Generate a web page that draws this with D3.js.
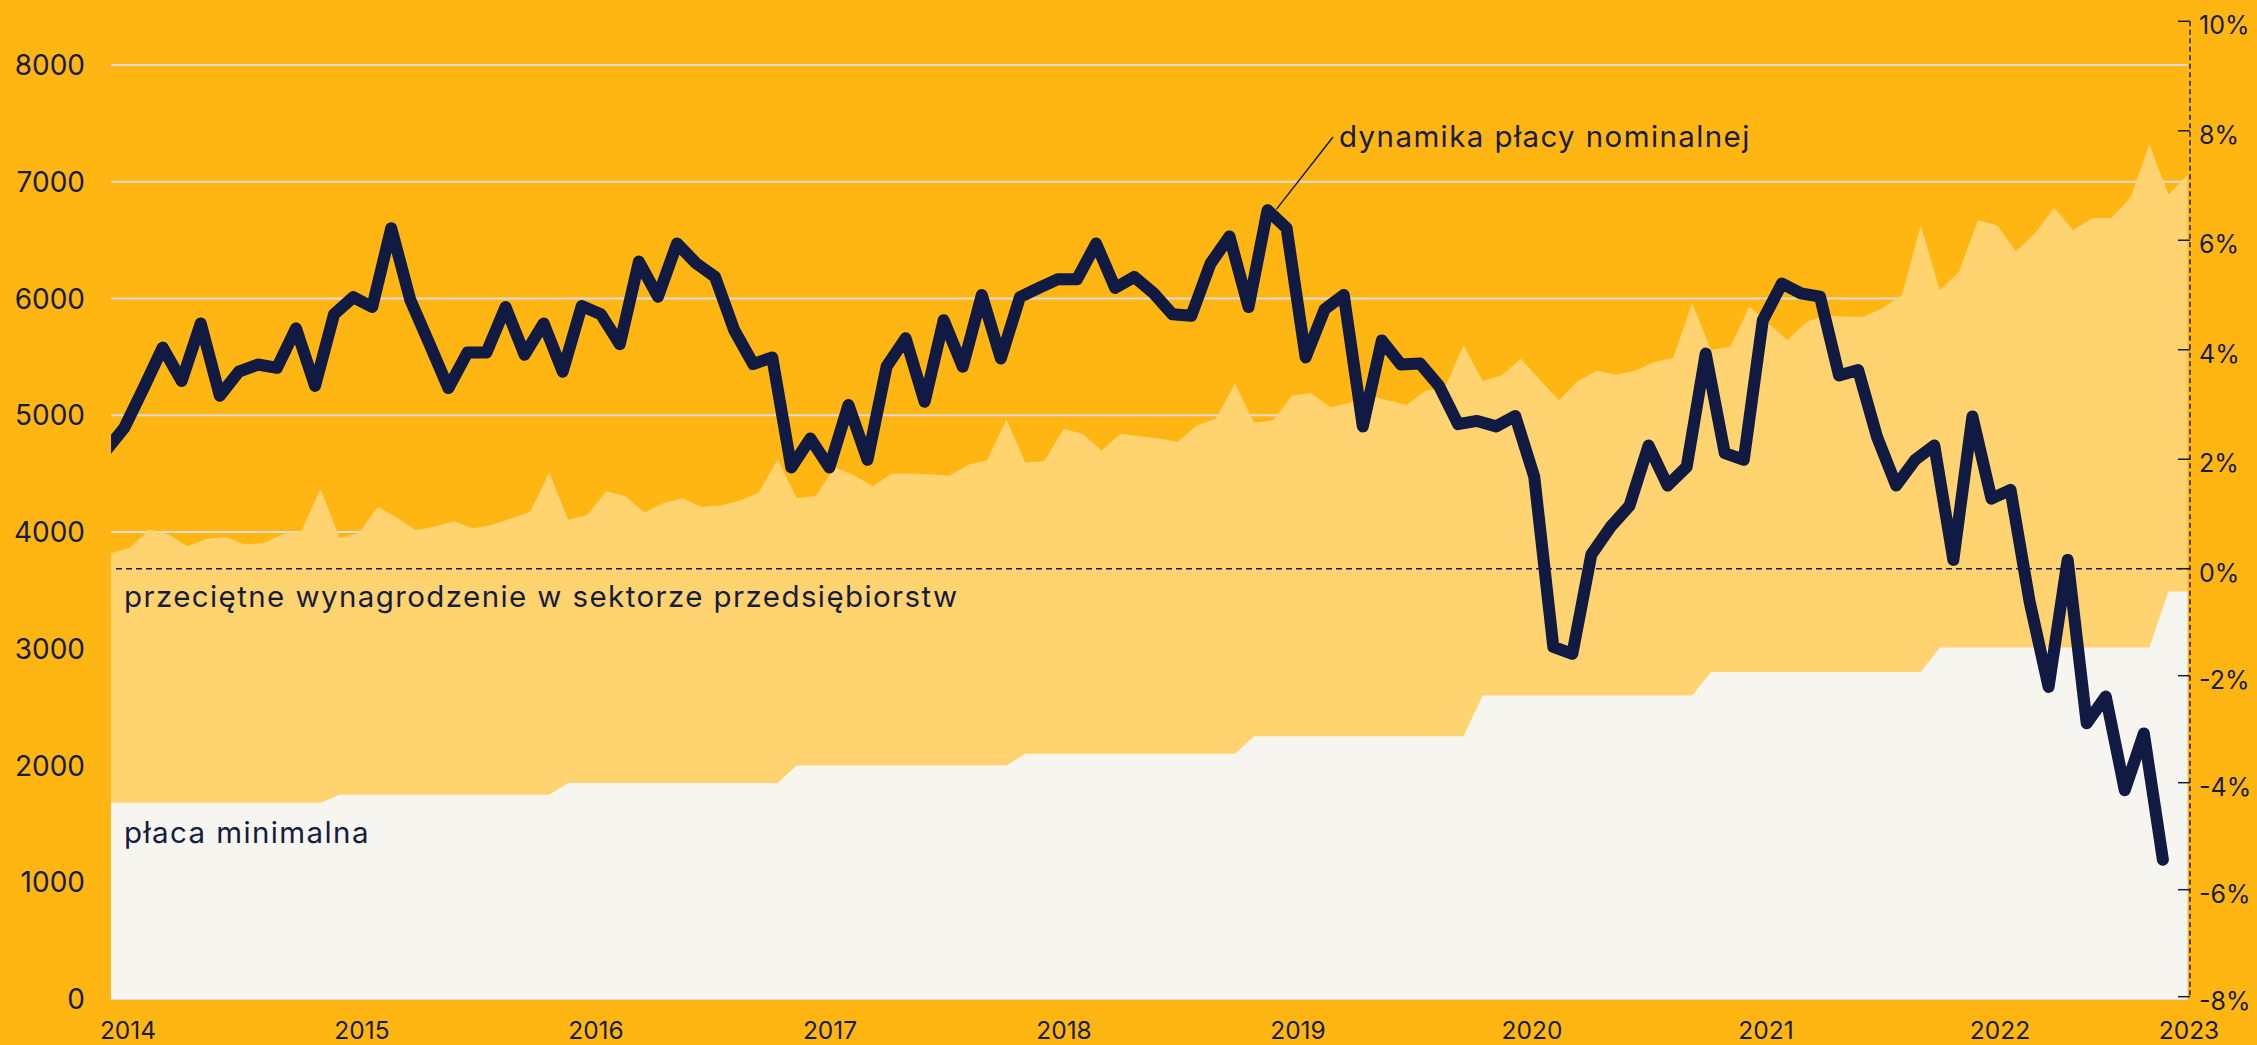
<!DOCTYPE html>
<html>
<head>
<meta charset="utf-8">
<script src="https://cdn.jsdelivr.net/npm/d3@7"></script>
<style>
  html, body { margin: 0; padding: 0; background: #FFB512; }
  svg { display: block; }
  text { font-family: Inter, "Noto Sans", sans-serif; fill: #161c3f; }
</style>
</head>
<body>
<svg id="chart" width="2257" height="1045"></svg>
<script>
// przeciętne wynagrodzenie w sektorze przedsiębiorstw, PLN, I 2014 - II 2023
var avgWage = [
  3817, 3866, 4022, 3981, 3879, 3940, 3957, 3895, 3903, 3981, 4010, 4371,
  3949, 3990, 4215, 4125, 4015, 4047, 4092, 4031, 4063, 4116, 4174, 4510,
  4104, 4146, 4350, 4309, 4166, 4248, 4289, 4215, 4227, 4268, 4338, 4624,
  4289, 4309, 4555, 4486, 4391, 4502, 4502, 4494, 4481, 4576, 4617, 4964,
  4596, 4608, 4883, 4842, 4698, 4842, 4821, 4801, 4772, 4915, 4973, 5272,
  4936, 4957, 5169, 5190, 5067, 5108, 5169, 5129, 5088, 5210, 5231, 5600,
  5293, 5341, 5485, 5305, 5129, 5293, 5382, 5346, 5382, 5456, 5490, 5959,
  5559, 5587, 5930, 5787, 5645, 5799, 5856, 5844, 5844, 5919, 6027, 6627,
  6073, 6227, 6670, 6627, 6404, 6558, 6775, 6587, 6690, 6690, 6862, 7318,
  6890, 7061
];

// płaca minimalna, PLN, I 2014 - II 2023
var minWage = [
  1680, 1680, 1680, 1680, 1680, 1680, 1680, 1680, 1680, 1680, 1680, 1680,
  1750, 1750, 1750, 1750, 1750, 1750, 1750, 1750, 1750, 1750, 1750, 1750,
  1850, 1850, 1850, 1850, 1850, 1850, 1850, 1850, 1850, 1850, 1850, 1850,
  2000, 2000, 2000, 2000, 2000, 2000, 2000, 2000, 2000, 2000, 2000, 2000,
  2100, 2100, 2100, 2100, 2100, 2100, 2100, 2100, 2100, 2100, 2100, 2100,
  2250, 2250, 2250, 2250, 2250, 2250, 2250, 2250, 2250, 2250, 2250, 2250,
  2600, 2600, 2600, 2600, 2600, 2600, 2600, 2600, 2600, 2600, 2600, 2600,
  2800, 2800, 2800, 2800, 2800, 2800, 2800, 2800, 2800, 2800, 2800, 2800,
  3010, 3010, 3010, 3010, 3010, 3010, 3010, 3010, 3010, 3010, 3010, 3010,
  3490, 3490
];

// dynamika płacy, % r/r, XII 2013 - XII 2022
var wageGrowth = [
  2.15,
  2.58, 3.30, 4.04, 3.43, 4.48, 3.16, 3.60, 3.73, 3.67, 4.39, 3.34, 4.65,
  4.96, 4.78, 6.22, 4.91, 4.11, 3.30, 3.95, 3.95, 4.78, 3.91, 4.48, 3.60,
  4.80, 4.65, 4.10, 5.61, 4.97, 5.94, 5.58, 5.33, 4.36, 3.74, 3.86, 1.85,
  2.38, 1.85, 2.99, 1.99, 3.69, 4.21, 3.05, 4.54, 3.69, 5.00, 3.84, 4.96,
  5.13, 5.29, 5.29, 5.94, 5.13, 5.33, 5.04, 4.65, 4.62, 5.57, 6.07, 4.78,
  6.55, 6.22, 3.86, 4.74, 5.00, 2.60, 4.17, 3.73, 3.75, 3.34, 2.64, 2.70,
  2.60, 2.79, 1.68, -1.46, -1.59, 0.26, 0.76, 1.15, 2.25, 1.52, 1.86, 3.93,
  2.11, 1.99, 4.54, 5.21, 5.03, 4.97, 3.53, 3.63, 2.40, 1.52, 1.99, 2.25,
  0.16, 2.78, 1.28, 1.44, -0.61, -2.21, 0.16, -2.89, -2.39, -4.14, -3.08, -5.44
];

var leftTicks = [0, 1000, 2000, 3000, 4000, 5000, 6000, 7000, 8000];
var rightTicks = [-8, -6, -4, -2, 0, 2, 4, 6, 8, 10];
var yearTicks = [2014, 2015, 2016, 2017, 2018, 2019, 2020, 2021, 2022, 2023];

var labelAvg = "przeciętne wynagrodzenie w sektorze przedsiębiorstw";
var labelMin = "płaca minimalna";
var labelGrowth = "dynamika płacy nominalnej";
var growthLabelMonth = 61; // index in wageGrowth the leader points to

var C = {
  bg: "#FFB512",
  avg: "#FFD36F",
  min: "#F6F5F0",
  grid: "#DCDCDC",
  line: "#111A42",
  ink: "#161c3f"
};

var svg = d3.select("#chart");
var W = 2257, H = 1045;

var months = d3.timeMonth.range(new Date(2014, 0, 1), new Date(2023, 2, 1));
var lineMonths = d3.timeMonth.range(new Date(2013, 11, 1), new Date(2023, 0, 1));

var x = d3.scalePoint().domain(months).range([111, 2187.5]);
var xLine = d3.scalePoint().domain(lineMonths).range([105.5, 2162.9]);
var y = d3.scaleLinear().domain([0, 8000]).range([999, 65]);
var yR = d3.scaleLinear().domain([-8, 0, 10]).range([996.7, 568.7, 21.3]);
var xYear = d3.scaleLinear().domain([2014, 2022, 2023]).range([128, 2000, 2189]);

svg.append("rect").attr("width", W).attr("height", H).attr("fill", C.bg);

svg.append("defs").append("clipPath").attr("id", "plot")
  .append("rect").attr("x", 111).attr("y", 0).attr("width", 2190 - 111).attr("height", H);

// gridlines
svg.append("g").selectAll("line").data(leftTicks).enter().append("line")
  .attr("x1", 111).attr("x2", 2187.5)
  .attr("y1", function(d) { return y(d); })
  .attr("y2", function(d) { return y(d); })
  .attr("stroke", C.grid).attr("stroke-width", 2);

// areas
var avgRows = months.map(function(m, i) { return { m: m, v: avgWage[i] }; });
var minRows = months.map(function(m, i) { return { m: m, v: minWage[i] }; });

var area = d3.area()
  .x(function(d) { return x(d.m); })
  .y0(y(0))
  .y1(function(d) { return y(d.v); });

svg.append("path").datum(avgRows).attr("d", area).attr("fill", C.avg);
svg.append("path").datum(minRows).attr("d", area).attr("fill", C.min);

// zero line of the right axis
svg.append("line")
  .attr("x1", 116).attr("x2", 2190)
  .attr("y1", yR(0)).attr("y2", yR(0))
  .attr("stroke", C.ink).attr("stroke-width", 1.5)
  .attr("stroke-dasharray", "6,4");

// wage growth line
var growthRows = lineMonths.map(function(m, i) { return { m: m, v: wageGrowth[i] }; });
var line = d3.line()
  .x(function(d) { return xLine(d.m); })
  .y(function(d) { return yR(d.v); });

svg.append("path").datum(growthRows)
  .attr("clip-path", "url(#plot)")
  .attr("d", line)
  .attr("fill", "none")
  .attr("stroke", C.line)
  .attr("stroke-width", 12)
  .attr("stroke-linejoin", "round")
  .attr("stroke-linecap", "round");

// right axis
svg.append("line")
  .attr("x1", 2190).attr("x2", 2190)
  .attr("y1", yR(10)).attr("y2", yR(-8))
  .attr("stroke", C.ink).attr("stroke-width", 1.5)
  .attr("stroke-dasharray", "5,3.5");

var rAxis = svg.append("g");
rAxis.selectAll("line").data(rightTicks).enter().append("line")
  .attr("x1", 2178).attr("x2", 2190)
  .attr("y1", function(d) { return yR(d); })
  .attr("y2", function(d) { return yR(d); })
  .attr("stroke", C.ink).attr("stroke-width", 1.5);
rAxis.selectAll("text").data(rightTicks).enter().append("text")
  .attr("x", 2199)
  .attr("y", function(d) { return yR(d) + 13; })
  .attr("font-size", 25)
  .text(function(d) { return d + "%"; });

// left axis labels
svg.append("g").selectAll("text").data(leftTicks).enter().append("text")
  .attr("x", 85)
  .attr("y", function(d) { return y(d) + 10; })
  .attr("text-anchor", "end")
  .attr("font-size", 28)
  .text(function(d) { return d; });

// year labels
svg.append("g").selectAll("text").data(yearTicks).enter().append("text")
  .attr("x", function(d) { return xYear(d); })
  .attr("y", 1039)
  .attr("text-anchor", "middle")
  .attr("font-size", 24.5)
  .text(function(d) { return d; });

// series labels
function seriesLabel(txt, lx, ly) {
  svg.append("text")
    .attr("x", lx).attr("y", ly)
    .attr("font-size", 29.5)
    .attr("letter-spacing", 1.4)
    .text(txt);
}
seriesLabel(labelAvg, 124, 607);
seriesLabel(labelMin, 124, 843);
seriesLabel(labelGrowth, 1339, 147);

// leader line for the growth label
var p = growthRows[growthLabelMonth];
svg.append("line")
  .attr("x1", xLine(p.m) + 9).attr("y1", yR(p.v) - 1)
  .attr("x2", 1333).attr("y2", 137)
  .attr("stroke", C.ink).attr("stroke-width", 1.5);
</script>
</body>
</html>
